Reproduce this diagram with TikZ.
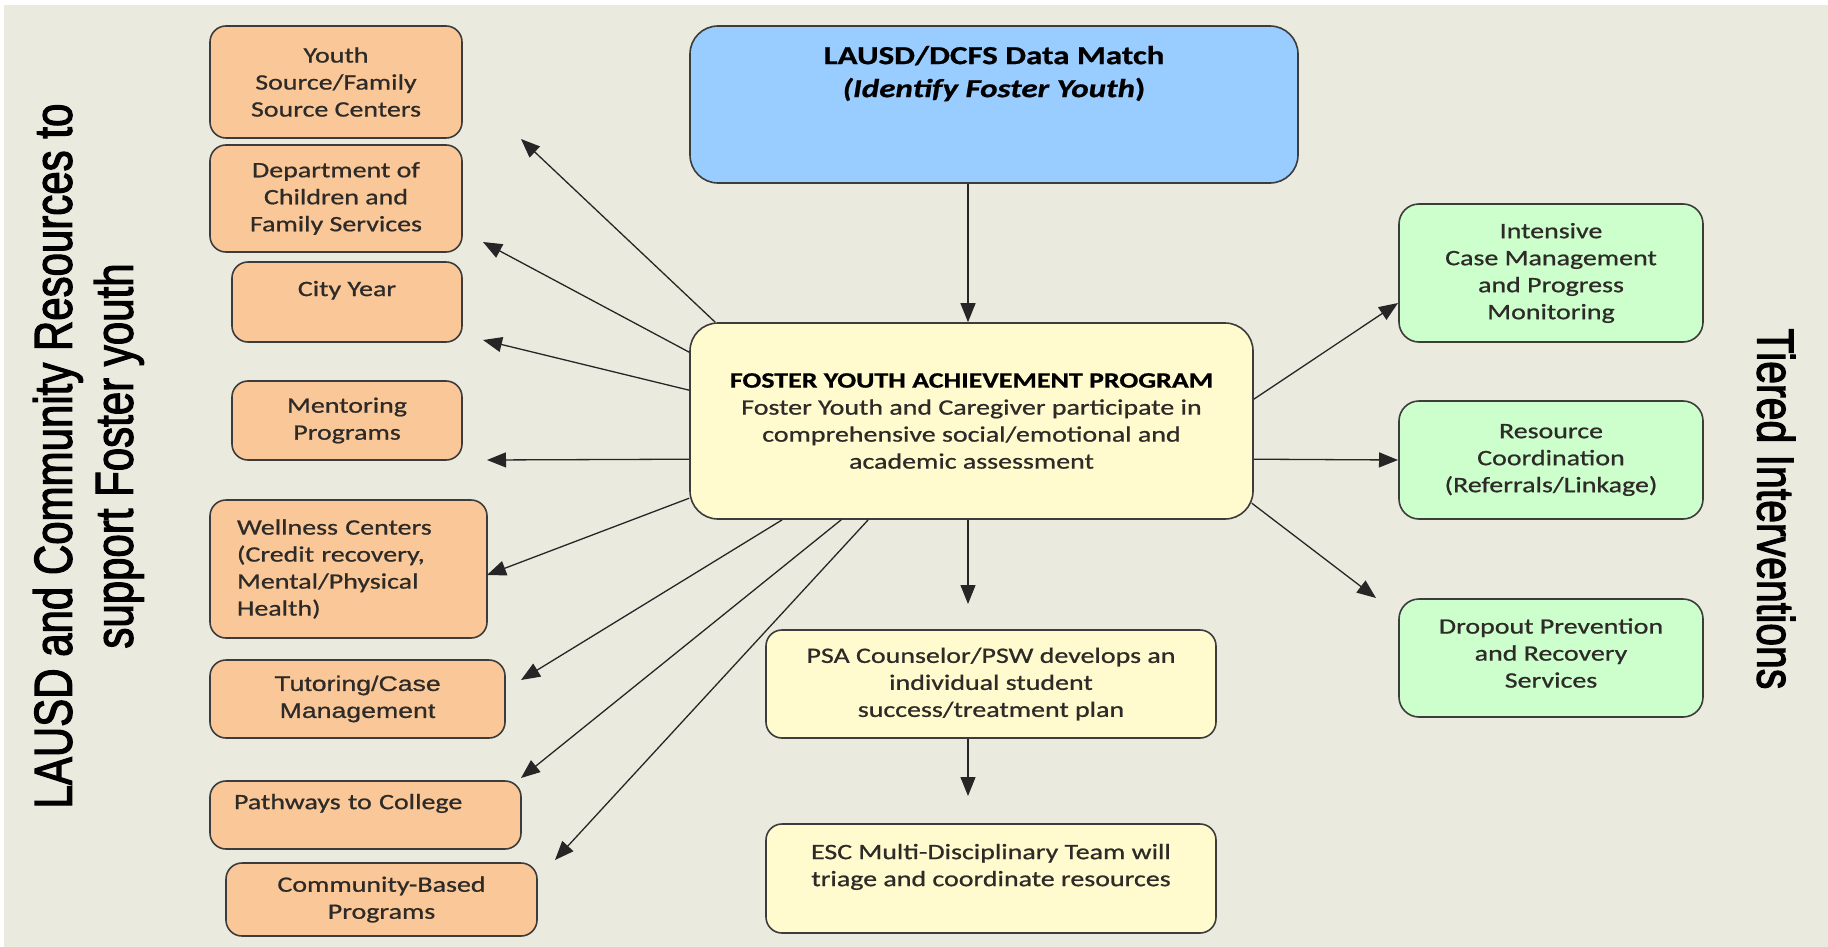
\documentclass[tikz,border=0pt]{standalone}
\usepackage{fontspec}
\usepackage{graphicx}
\usetikzlibrary{arrows.meta,calc}
\setmainfont{Carlito}[FakeStretch=1.27,FakeBold=0.8]
\newfontfamily\arialx{Liberation Sans}[FakeStretch=1.27,FakeBold=0.8]
\newfontfamily\sidefont{Liberation Sans}[FakeBold=2.5]
\definecolor{bg}{RGB}{234,234,223}
\definecolor{orangebox}{RGB}{250,200,152}
\definecolor{bluebox}{RGB}{153,204,255}
\definecolor{yellowbox}{RGB}{255,251,206}
\definecolor{greenbox}{RGB}{204,255,204}
\definecolor{edgecol}{RGB}{60,60,60}
\definecolor{txt}{RGB}{45,42,40}
\begin{document}
\begin{tikzpicture}[x=1pt,y=-1pt,
  box/.style={draw=edgecol, line width=1.6pt, rounded corners=16pt, inner sep=0pt, align=center, text=txt, font=\fontsize{22}{27}\selectfont},
  resbox/.style={box, fill=orangebox},
  grnbox/.style={box, fill=greenbox, rounded corners=20pt, minimum width=304pt},
  bigbox/.style={box, rounded corners=28pt},
  arr/.style={draw=black!85, line width=1.3pt, -{Triangle[length=19pt,width=15pt]}},
]
\useasboundingbox (0,0) rectangle (1828,947);
\fill[bg] (4,5) rectangle (1828,947);

% left resources
\node[resbox, minimum width=252pt, minimum height=112pt] (ys) at (336,82) {Youth\\Source/Family\\Source Centers};
\node[resbox, minimum width=252pt, minimum height=107pt] (dcfs) at (336,198.5) {Department of\\Children and\\Family Services};
\node[resbox, minimum width=230pt, minimum height=80pt] (city) at (347,302) {City Year\\~};
\node[resbox, minimum width=230pt, minimum height=79pt] (ment) at (347,420.5) {Mentoring\\Programs};
\node[resbox, minimum height=138pt, text width=223pt, inner xsep=27pt, align=left] (well) at (348.5,569) {Wellness Centers\\(Credit recovery,\\Mental/Physical\\Health)};
\node[resbox, minimum width=295pt, minimum height=78pt, font=\arialx\fontsize{21}{27}\selectfont] (tut) at (357.5,699) {Tutoring/Case\\Management};
\node[resbox, minimum height=68pt, text width=263pt, inner xsep=24pt, align=left] (path) at (365.5,815) {Pathways to College\\~};
\node[resbox, minimum width=311pt, minimum height=73pt] (comm) at (381.5,899.5) {Community-Based\\Programs};

% center column
\node[bigbox, fill=bluebox, text=black, minimum width=608pt, minimum height=157pt, font=\fontsize{26}{33}\selectfont] (blue) at (994,104.5)
  {\textbf{LAUSD/DCFS Data Match}\\\textbf{\textit{(Identify Foster Youth})}\\~\\~};
\node[bigbox, fill=yellowbox, minimum width=563pt, minimum height=196pt] (cen) at (971.5,421)
  {\textcolor{black}{\textbf{FOSTER YOUTH ACHIEVEMENT PROGRAM}}\\Foster Youth and Caregiver participate in\\comprehensive social/emotional and\\academic assessment};
\node[box, fill=yellowbox, minimum width=450pt, minimum height=108pt] (psa) at (991,684)
  {PSA Counselor/PSW develops an\\individual student\\success/treatment plan};
\node[box, fill=yellowbox, minimum width=450pt, minimum height=109pt] (esc) at (991,878.5)
  {ESC Multi-Disciplinary Team will\\triage and coordinate resources\\~};

% right interventions
\node[grnbox, minimum height=138pt] (int) at (1551,273) {Intensive\\Case Management\\and Progress\\Monitoring};
\node[grnbox, minimum height=118pt] (rsc) at (1551,460) {Resource\\Coordination\\(Referrals/Linkage)};
\node[grnbox, minimum height=118pt] (drop) at (1551,658) {Dropout Prevention\\and Recovery\\Services\\[-17pt]~};

% side labels
\node[rotate=90, font=\sidefont\fontsize{42}{48}\selectfont, text=black, inner sep=0pt] (lbl) at (90,456)
  {\scalebox{1}[1.27]{\begin{tabular}{@{}c@{}}LAUSD and Community Resources to\\support Foster youth\end{tabular}}};
\node[rotate=-90, font=\sidefont\fontsize{41}{48}\selectfont, text=black, inner sep=0pt] (tier) at (1776,509)
  {\scalebox{1}[1.27]{Tiered Interventions}};

% arrow end points
\coordinate (vx) at (968,0);
\coordinate (tys) at (521,139);
\coordinate (tdcfs) at (483,242);
\coordinate (tcity) at (483,340);
\coordinate (tment) at (487,460);
\coordinate (twell) at (487,575);
\coordinate (ttut) at (521,680);
\coordinate (tpath) at (521,778);
\coordinate (tcomm) at (555,860);
\coordinate (tint) at (1398,303);
\coordinate (trsc) at (1398,460);
\coordinate (tdrop) at (1376,598);
\coordinate (tpsa) at (968,604);
\coordinate (tesc) at (968,796);

\draw[arr] (blue.south -| vx) -- (cen.north -| vx);
\draw[arr] (cen.south -| vx) -- (tpsa);
\draw[arr] (psa.south -| vx) -- (tesc);

\draw[arr] ($(cen.north west)+(26,0)$) -- (tys);
\draw[arr] ($(cen.north west)+(0,30)$) -- (tdcfs);
\draw[arr] ($(cen.north west)+(0,68)$) -- (tcity);
\draw[arr] ($(cen.north west)+(0,137)$) -- (tment);
\draw[arr] ($(cen.north west)+(0,176)$) -- (twell);
\draw[arr] ($(cen.south west)+(93,0)$) -- (ttut);
\draw[arr] ($(cen.south west)+(152,0)$) -- (tpath);
\draw[arr] ($(cen.south west)+(179,0)$) -- (tcomm);

\draw[arr] ($(cen.north east)+(0,77)$) -- (tint);
\draw[arr] ($(cen.north east)+(0,137)$) -- (trsc);
\draw[arr] ($(cen.north east)+(-2,181)$) -- (tdrop);
\end{tikzpicture}
\end{document}
